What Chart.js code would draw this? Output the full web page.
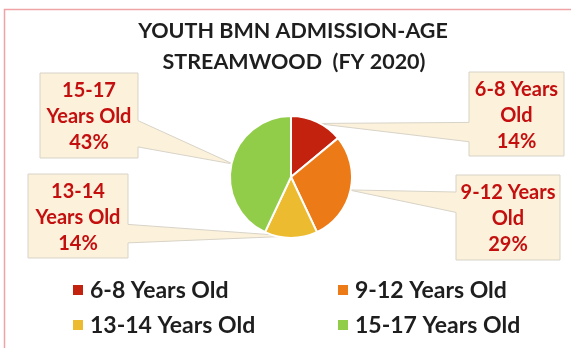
<!DOCTYPE html>
<html>
<head>
<meta charset="utf-8">
<script src="https://cdn.jsdelivr.net/npm/chart.js@4/dist/chart.umd.min.js"></script>
<style>
  html, body { margin: 0; padding: 0; background: #ffffff; }
  #wrap { width: 571px; height: 348px; position: relative; }
</style>
</head>
<body>
<div id="wrap"><canvas id="chart" width="571" height="348"></canvas></div>
<script>
// Chart content
const titleLines = ['YOUTH BMN ADMISSION-AGE', 'STREAMWOOD  (FY 2020)'];
const categories = ['6-8 Years Old', '9-12 Years Old', '13-14 Years Old', '15-17 Years Old'];
const shares = [14, 29, 14, 43];
const sliceColors = ['#C3220F', '#EC7A17', '#EDBB30', '#92CD4A'];

// Callout box layout, one per slice (pointer edge and where its base sits on that edge)
const calloutLayout = [
  { x: 469, y: 72,  w: 95,  h: 84, edge: 'left',  base: [0.60, 0.83] },
  { x: 456, y: 175, w: 104, h: 85, edge: 'left',  base: [0.20, 0.44] },
  { x: 28,  y: 174, w: 100, h: 84, edge: 'right', base: [0.60, 0.82] },
  { x: 40,  y: 73,  w: 98,  h: 85, edge: 'right', base: [0.56, 0.87] }
];

// Legend grid: two columns, two rows
const legendCols = [73, 338];
const legendRows = [290, 325];

const TITLE_FONT = 'bold 21.5px Lato';
const CALLOUT_FONT = 'bold 20px Lato';
const LEGEND_FONT = 'bold 23px Lato';

function wrapWords(ctx, text, maxWidth) {
  const words = text.split(' ');
  const lines = [];
  let cur = '';
  for (const w of words) {
    const test = cur ? cur + ' ' + w : w;
    if (cur && ctx.measureText(test).width > maxWidth) {
      lines.push(cur);
      cur = w;
    } else {
      cur = test;
    }
  }
  if (cur) lines.push(cur);
  return lines;
}

const decorPlugin = {
  id: 'decor',
  beforeDatasetsDraw(chart) {
    const ctx = chart.ctx;
    ctx.save();

    // frame
    ctx.strokeStyle = '#F0A3A6';
    ctx.lineWidth = 1.5;
    ctx.strokeRect(4.5, 9.5, 700, 500);

    // title
    ctx.fillStyle = '#1E1E1E';
    ctx.font = TITLE_FONT;
    ctx.textAlign = 'center';
    ctx.textBaseline = 'middle';
    ctx.fillText(titleLines[0], 293, 31);
    ctx.fillText(titleLines[1], 294, 62);

    // callouts (drawn under the pie so the pointer tips tuck beneath the slices)
    const meta = chart.getDatasetMeta(0);
    meta.data.forEach((arc, i) => {
      const L = calloutLayout[i];
      const p = arc.getProps(['x', 'y', 'startAngle', 'endAngle', 'outerRadius'], true);
      const mid = (p.startAngle + p.endAngle) / 2;
      const r = p.outerRadius * 0.97;
      const tx = p.x + Math.cos(mid) * r;
      const ty = p.y + Math.sin(mid) * r;
      const b0 = L.y + L.h * L.base[0];
      const b1 = L.y + L.h * L.base[1];

      ctx.beginPath();
      if (L.edge === 'left') {
        ctx.moveTo(L.x, L.y);
        ctx.lineTo(L.x + L.w, L.y);
        ctx.lineTo(L.x + L.w, L.y + L.h);
        ctx.lineTo(L.x, L.y + L.h);
        ctx.lineTo(L.x, b1);
        ctx.lineTo(tx, ty);
        ctx.lineTo(L.x, b0);
      } else {
        ctx.moveTo(L.x, L.y);
        ctx.lineTo(L.x + L.w, L.y);
        ctx.lineTo(L.x + L.w, b0);
        ctx.lineTo(tx, ty);
        ctx.lineTo(L.x + L.w, b1);
        ctx.lineTo(L.x + L.w, L.y + L.h);
        ctx.lineTo(L.x, L.y + L.h);
      }
      ctx.closePath();
      ctx.fillStyle = '#FCF1DA';
      ctx.fill();
      ctx.strokeStyle = '#D8D3C8';
      ctx.lineWidth = 1;
      ctx.stroke();

      ctx.font = CALLOUT_FONT;
      ctx.fillStyle = '#C40F0F';
      ctx.textAlign = 'center';
      ctx.textBaseline = 'middle';
      const lines = wrapWords(ctx, chart.data.labels[i], L.w - 4);
      lines.push(chart.data.datasets[0].data[i] + '%');
      const lh = 26;
      const cx = L.x + L.w / 2;
      const cy = L.y + L.h / 2 + 1.5;
      lines.forEach((t, k) => {
        ctx.fillText(t, cx, cy + (k - (lines.length - 1) / 2) * lh);
      });
    });
    ctx.restore();
  },
  afterDraw(chart) {
    const ctx = chart.ctx;
    const ds = chart.data.datasets[0];
    ctx.save();
    ctx.font = LEGEND_FONT;
    ctx.textAlign = 'left';
    ctx.textBaseline = 'middle';
    chart.data.labels.forEach((label, i) => {
      const x = legendCols[i % 2];
      const y = legendRows[Math.floor(i / 2)];
      ctx.fillStyle = ds.backgroundColor[i];
      ctx.fillRect(x, y - 5, 10, 10);
      ctx.fillStyle = '#1E1E1E';
      ctx.fillText(label, x + 17, y + 1);
    });
    ctx.restore();
  }
};

new Chart(document.getElementById('chart'), {
  type: 'pie',
  data: {
    labels: categories,
    datasets: [{
      data: shares,
      backgroundColor: sliceColors,
      borderColor: '#ffffff',
      borderWidth: 2,
      hoverOffset: 0
    }]
  },
  options: {
    responsive: false,
    animation: false,
    events: [],
    layout: { padding: { top: 115, bottom: 109, left: 200, right: 189 } },
    plugins: {
      legend: { display: false },
      title: { display: false },
      tooltip: { enabled: false }
    }
  },
  plugins: [decorPlugin]
});
</script>
</body>
</html>
